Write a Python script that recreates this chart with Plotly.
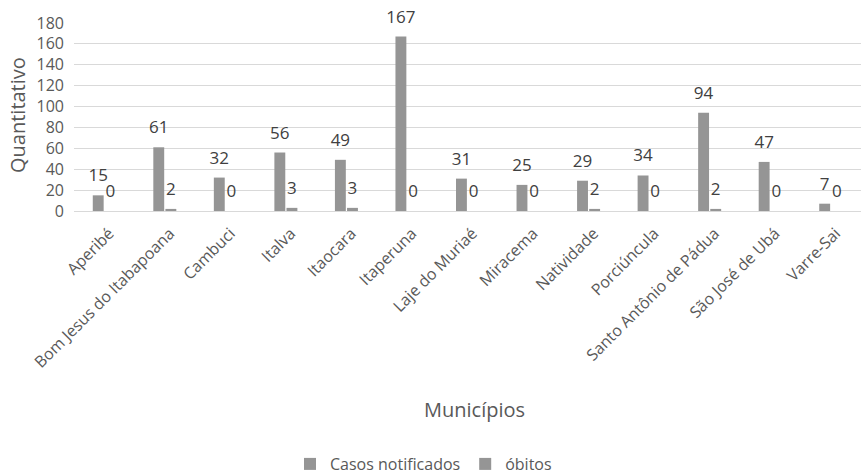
import plotly.graph_objects as go

municipios = ["Aperibé", "Bom Jesus do Itabapoana", "Cambuci", "Italva", "Itaocara",
              "Itaperuna", "Laje do Muriaé", "Miracema", "Natividade", "Porciúncula",
              "Santo Antônio de Pádua", "São José de Ubá", "Varre-Sai"]
casos = [15, 61, 32, 56, 49, 167, 31, 25, 29, 34, 94, 47, 7]
obitos = [0, 2, 0, 3, 3, 0, 0, 0, 2, 0, 2, 0, 0]
y_ticks = [0, 20, 40, 60, 80, 100, 120, 140, 160, 180]

FONT = "Open Sans, Liberation Sans, sans-serif"
TXT = "#595959"
LBL = "#404040"
BAR = "#959595"

W, H = 864, 474
L, R, T, B = 74, 3, 23, 263

fig = go.Figure()
series = [("Casos notificados", casos, "a"), ("óbitos", obitos, "b")]
for name, vals, grp in series:
    fig.add_trace(go.Bar(x=municipios, y=vals, name=name, marker_color=BAR,
                         offsetgroup=grp, marker_line_width=0))
for name, vals, grp in series:
    fig.add_trace(go.Scatter(x=municipios, y=vals, mode="markers+text", text=vals,
                             textposition="top center", offsetgroup=grp,
                             marker=dict(size=14, opacity=0), cliponaxis=False,
                             showlegend=False, hoverinfo="skip",
                             textfont=dict(size=17, color=LBL, family=FONT)))

pw = W - L - R
fig.update_layout(
    width=W, height=H,
    margin=dict(l=L, r=R, t=T, b=B),
    paper_bgcolor="white", plot_bgcolor="white",
    barmode="group", bargap=0.6, bargroupgap=0.1,
    scattermode="group", scattergap=0.6,
    font=dict(family=FONT, color=TXT),
    showlegend=True,
    legend=dict(orientation="h", xref="container", yref="container",
                x=290 / W, xanchor="left", y=1 - 464 / H, yanchor="middle",
                font=dict(size=16, color=TXT, family=FONT), itemwidth=30,
                traceorder="normal", bgcolor="rgba(0,0,0,0)"),
    xaxis=dict(type="category", range=[-0.5, 12.5], tickangle=-45, automargin=False,
               tickfont=dict(size=16, color=TXT, family=FONT),
               ticklabelstandoff=9, ticklabelshift=5,
               showgrid=False, showline=False, ticks="", ticklen=0),
    yaxis=dict(range=[0, 180], tickvals=y_ticks, showgrid=True, gridcolor="#d9d9d9",
               gridwidth=1, zeroline=True, zerolinecolor="#d9d9d9", zerolinewidth=1,
               automargin=False, tickfont=dict(size=16, color=TXT, family=FONT),
               ticks="", ticklabelstandoff=9),
    annotations=[
        dict(text="Municípios", xref="paper", yref="paper",
             x=(474 - L) / pw, y=-(409 - (H - B)) / (H - T - B),
             xanchor="center", yanchor="middle", showarrow=False,
             font=dict(size=20, color=TXT, family=FONT)),
        dict(text="Quantitativo", xref="paper", yref="paper",
             x=-(L - 17) / pw, y=(211 - 115) / (H - T - B),
             xanchor="center", yanchor="middle", textangle=-90, showarrow=False,
             font=dict(size=20, color=TXT, family=FONT)),
    ],
)

fig.write_html("out.html")
